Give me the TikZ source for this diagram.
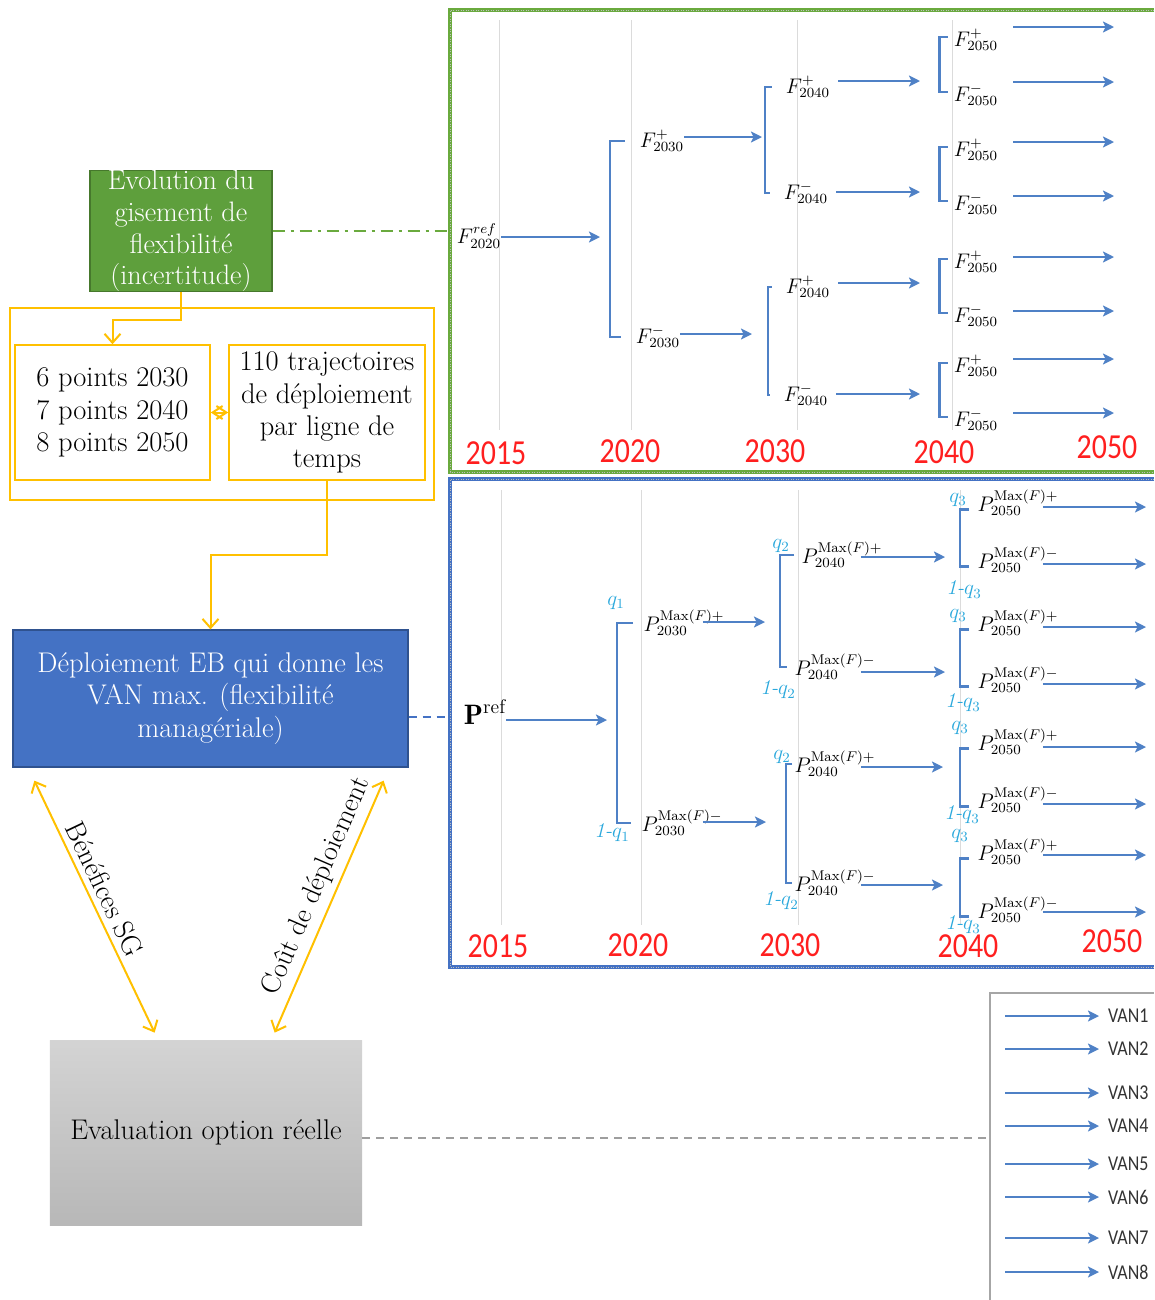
\documentclass[tikz,border=0pt]{standalone}
\usepackage{fontspec}
\newfontfamily\narrowsans[FakeStretch=0.85]{Carlito}
\usetikzlibrary{arrows.meta,calc}
\definecolor{evogreen}{HTML}{5E9F3C}
\definecolor{evoedge}{HTML}{46782C}
\definecolor{frgreen}{HTML}{6AAA3E}
\definecolor{deplblue}{HTML}{4472C4}
\definecolor{depledge}{HTML}{2F528F}
\definecolor{treeblue}{HTML}{4F81C6}
\definecolor{optgold}{HTML}{FFC000}
\definecolor{probcyan}{HTML}{2AA8DC}
\definecolor{yearred}{HTML}{FF1F1F}
\tikzset{
  txtbox/.style={rectangle, align=center, inner sep=0pt,
                 font=\fontsize{16.2}{18.3}\selectfont},
  darkbox/.style={txtbox, draw, text=white, line width=0.25mm},
  goldbox/.style={txtbox, draw=optgold, line width=0.3mm, fill=white},
  flbl/.style={inner sep=0pt, font=\fontsize{12}{14}\selectfont},
  qlbl/.style={inner sep=0pt, text=probcyan, font=\fontsize{12}{14}\selectfont},
  yearlbl/.style={inner sep=0pt, text=yearred, font=\narrowsans\fontsize{20}{20}\selectfont},
  vanlbl/.style={inner sep=1pt, text=black!80, font=\narrowsans\fontsize{12}{12}\selectfont},
  treearrow/.style={->, >={Stealth[length=2.2mm, width=2.2mm, inset=0.5mm]},
                    draw=treeblue, line width=0.5mm},
  bracket/.style={draw=treeblue, line width=0.5mm},
  goldarrow/.style={->, >={Straight Barb[length=1.8mm, width=3.2mm]},
                    draw=optgold, line width=0.4mm},
  sidelbl/.style={sloped, above, font=\fontsize{16}{18}\selectfont},
  gridline/.style={draw=black!14, line width=0.2mm},
  gframe/.style={draw=frgreen, line width=0.65mm,
                 postaction={draw=black!25, line width=0.15mm, dash pattern=on 0.2mm off 0.3mm}},
  bframe/.style={gframe, draw=deplblue}
}

\begin{document}
\begin{tikzpicture}[x=0.2mm, y=-0.2mm]
  \useasboundingbox (0,0) rectangle (1154,1300);

  % left column
  \node[darkbox, fill=evogreen, draw=evoedge, minimum width=36.4mm, minimum height=24mm,
        font=\fontsize{16}{18}\selectfont] (evol) at (181,231)
        {Evolution du\\gisement de\\flexibilité\\(incertitude)};
  \node[goldbox, minimum width=84.8mm, minimum height=38.4mm] (optbox) at (222,404) {};
  \node[goldbox, minimum width=39mm, minimum height=27mm] (pts) at (112.5,412.5)
        {6 points 2030\\7 points 2040\\8 points 2050};
  \node[goldbox, minimum width=39.2mm, minimum height=27mm] (traj) at (327,412.5)
        {110 trajectoires\\de déploiement\\par ligne de\\temps};
  \node[darkbox, fill=deplblue, draw=depledge, minimum width=79mm, minimum height=27.4mm]
        (deploy) at (210.5,698.5)
        {Déploiement EB qui donne les\\VAN max. (flexibilité\\managériale)};
  \node[txtbox, top color=black!17, bottom color=black!28, minimum width=62.4mm,
        minimum height=37mm] (evalopt) at (206,1132.5) {Evaluation option réelle};

  \coordinate (elbowa) at (150,320);
  \coordinate (elbowb) at (260,555);
  \coordinate (gfr) at (450,231);
  \coordinate (bfr) at (450,717);
  \coordinate (vanfr) at (990,1138);

  \draw[goldarrow] (evol.south) |- (elbowa) -| (pts.north);
  \draw[goldarrow] (traj.south) |- (elbowb) -| (deploy.north);
  \draw[goldarrow, <->, >={Straight Barb[length=2mm, width=2.6mm]}] (pts.east) -- (traj.west);
  \draw[goldarrow, <->] ($(deploy.south west)+(22,13)$) -- ($(evalopt.north west)+(105,-7)$)
    node[sidelbl, pos=0.46] (benlbl) {Bénéfices SG};
  \draw[goldarrow, <->] ($(evalopt.north west)+(225,-7)$) -- ($(deploy.south east)+(-25,13)$)
    node[sidelbl, pos=0.55] (coutlbl) {Coût de déploiement};

  \draw[frgreen, line width=0.4mm, dash pattern=on 2.4mm off 1.2mm on 0.6mm off 1.2mm]
    (evol.east) -- (gfr);
  \draw[deplblue, line width=0.4mm, dash pattern=on 1.6mm off 1.2mm] (deploy.east |- bfr) -- (bfr);
  \draw[black!38, line width=0.5mm, dash pattern=on 1.6mm off 1.2mm] (evalopt.east |- vanfr) -- (vanfr);

  % frames and time lines
  \draw[gframe] (1154,10) -| (450,472) -- (1154,472);
  \draw[bframe] (1154,479) -| (450,967) -- (1154,967);
  \draw[draw=black!35, line width=0.3mm] (1154,993) -| (990,1300);
  \foreach \x in {499,631,797,952} \draw[gridline] (\x,20) -- (\x,430);
  \foreach \x in {501,641,798,960} \draw[gridline] (\x,490) -- (\x,925);
  \foreach \x/\y/\t in {496/453/2015, 630/451/2020, 775/451/2030, 944/452/2040, 1107/447/2050}
    \node[yearlbl] (ytop\t) at (\x,\y) {\t};
  \foreach \x/\y/\t in {498/946/2015, 638/945/2020, 790/945/2030, 968/946/2040, 1112/941/2050}
    \node[yearlbl] (ybot\t) at (\x,\y) {\t};

  % F tree
  \node[flbl] (fref) at (479,236) {$F^{ref}_{2020}$};
  \node[flbl] (f30p) at (662,141) {$F^{+}_{2030}$};
  \node[flbl] (f30m) at (658,337) {$F^{-}_{2030}$};
  \node[flbl] (f40a) at (808,87) {$F^{+}_{2040}$};
  \node[flbl] (f40b) at (806,193) {$F^{-}_{2040}$};
  \node[flbl] (f40c) at (808,287) {$F^{+}_{2040}$};
  \node[flbl] (f40d) at (806,395) {$F^{-}_{2040}$};
  \foreach \y [count=\i] in {40,95,150,204,262,316,366,420}
    \node[flbl] (f50-\i) at (976,\y) {$F^{\ifodd\i+\else-\fi}_{2050}$};

  \foreach \n/\x/\y/\s in {fref/600/237/0, f30p/762/137/0, f30m/752/334/0,
                           f40a/920/81/1.6, f40b/920/192/1.6, f40c/920/283/1.6, f40d/920/394/1.6}{
    \coordinate (\n-end) at (\x,\y);
    \draw[treearrow, shorten <=\s mm] (\n.east |- \n-end) -- (\n-end);
  }
  \foreach \y [count=\i] in {27,82,142,196,257,311,359,413}{
    \coordinate (f50-\i-end) at (1114,\y);
    \draw[treearrow, shorten <=3mm] (f50-\i.east |- f50-\i-end) -- (f50-\i-end);
  }

  \coordinate (k20) at (610,237);
  \coordinate (k30a) at (765,137);
  \coordinate (k30b) at (768,337);
  \draw[bracket] ([xshift=-3mm]f30p.west) -| (k20) |- ([xshift=-3mm]f30m.west);
  \draw[bracket] ([xshift=-2.8mm]f40a.west) -| (k30a) |- ([xshift=-2.8mm]f40b.west);
  \draw[bracket] ([xshift=-2.8mm]f40c.west) -| (k30b) |- ([xshift=-2.8mm]f40d.west);
  \foreach \j [evaluate=\j as \a using int(2*\j-1), evaluate=\j as \b using int(2*\j)] in {1,...,4}
    \draw[bracket] ([xshift=-1.2mm, yshift=0.6mm]f50-\a.west)
      -| ($(f50-\a.west)!.5!(f50-\b.west)+(-14,0)$) |- ([xshift=-1.2mm, yshift=0.6mm]f50-\b.west);

  % P tree
  \node[flbl, font=\fontsize{16}{18}\selectfont] (pref) at (485,712) {$\mathbf{P}^{\mathrm{ref}}$};
  \node[flbl] (p30p) at (684,623) {$P^{\mathrm{Max}(F)+}_{2030}$};
  \node[flbl] (p30m) at (682,823) {$P^{\mathrm{Max}(F)-}_{2030}$};
  \node[flbl] (p40a) at (842,555) {$P^{\mathrm{Max}(F)+}_{2040}$};
  \node[flbl] (p40b) at (835,667) {$P^{\mathrm{Max}(F)-}_{2040}$};
  \node[flbl] (p40c) at (835,764) {$P^{\mathrm{Max}(F)+}_{2040}$};
  \node[flbl] (p40d) at (835,883) {$P^{\mathrm{Max}(F)-}_{2040}$};
  \foreach \y [count=\i] in {503,560,623,680,742,800,852,910}
    \node[flbl] (p50-\i) at (1018,\y) {$P^{\mathrm{Max}(F)\ifodd\i+\else-\fi}_{2050}$};

  \foreach \n/\x/\y/\s in {pref/607/720/0, p30p/765/622/-4.4, p30m/766/822/-4,
                           p40a/945/557/-4.4, p40b/945/672/-3, p40c/943/767/-3, p40d/943/885/-3}{
    \coordinate (\n-end) at (\x,\y);
    \draw[treearrow, shorten <=\s mm] (\n.east |- \n-end) -- (\n-end);
  }
  \foreach \y [count=\i] in {507,564,627,684,747,804,855,912}{
    \coordinate (p50-\i-end) at (1146,\y);
    \draw[treearrow, shorten <=-3.2mm] (p50-\i.east |- p50-\i-end) -- (p50-\i-end);
  }

  \coordinate (k20p) at (617,720);
  \coordinate (k30pa) at (780,615);
  \coordinate (k30pb) at (786,825);
  \draw[bracket] ([xshift=-2mm]p30p.west) -| (k20p) |- ([xshift=-2mm]p30m.west);
  \draw[bracket] ([xshift=-1.4mm]p40a.west) -| (k30pa) |- ([xshift=-1.4mm]p40b.west);
  \draw[bracket] ([xshift=-0.4mm]p40c.west) -| (k30pb) |- ([xshift=-0.4mm]p40d.west);
  \foreach \j [evaluate=\j as \a using int(2*\j-1), evaluate=\j as \b using int(2*\j)] in {1,...,4}
    \draw[bracket] ([xshift=-1.6mm, yshift=-1.3mm]p50-\a.west)
      -| ($(p50-\a.west)!.5!(p50-\b.west)+(-17,0)$) |- ([xshift=-1.6mm, yshift=-1.3mm]p50-\b.west);

  \node[qlbl] (q1a) at (616,603) {$q_1$};
  \node[qlbl] (q1b) at (612,833) {\itshape 1-$q_1$};
  \node[qlbl] (q2a) at (781,546) {$q_2$};
  \node[qlbl] (q2b) at (778,690) {\itshape 1-$q_2$};
  \node[qlbl] (q2c) at (782,757) {$q_2$};
  \node[qlbl] (q2d) at (781,901) {\itshape 1-$q_2$};
  \foreach \x/\y [count=\i] in {958/500, 958/616, 960/728, 960/836}
    \node[qlbl] (q3a-\i) at (\x,\y) {$q_3$};
  \foreach \x/\y [count=\i] in {964/590, 963/703, 962/815, 963/925}
    \node[qlbl] (q3b-\i) at (\x,\y) {\itshape 1-$q_3$};

  % VAN list
  \coordinate (vanstart) at (1005,1000);
  \foreach \y [count=\i] in {1016,1049,1093,1126,1164,1197,1238,1272}{
    \node[vanlbl, anchor=west] (van\i) at (1106,\y) {VAN\i};
    \draw[treearrow, line width=0.4mm, shorten >=1.4mm] (vanstart |- van\i.west) -- (van\i.west);
  }
\end{tikzpicture}
\end{document}
